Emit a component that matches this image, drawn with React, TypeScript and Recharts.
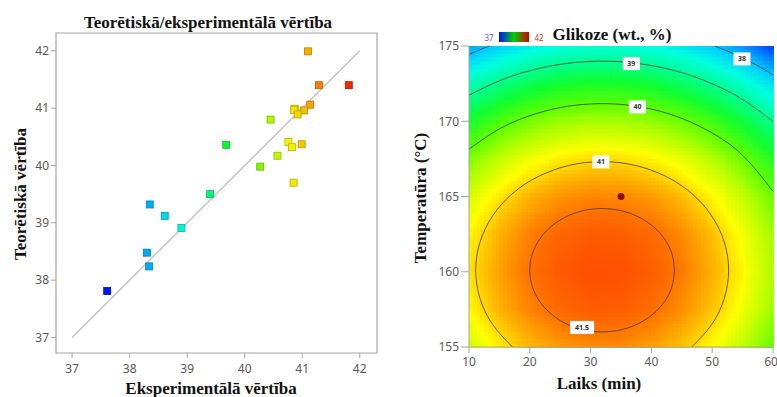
import { ScatterChart, ComposedChart, Scatter, Line, XAxis, YAxis, ReferenceArea, ReferenceLine } from 'recharts'

// kreisais grafiks: eksperimentālā pret teorētisko vērtību
const eksperimentala = [41.1, 41.29, 41.81, 41.14, 41.03, 40.87, 40.86, 40.92, 40.45, 39.68, 40.76, 40.82, 40.99, 40.57, 40.27, 40.85, 39.4, 38.35, 38.61, 38.9, 38.3, 38.34, 37.61]
const teoretiska = [41.99, 41.4, 41.4, 41.06, 40.96, 40.99, 40.97, 40.89, 40.8, 40.36, 40.41, 40.32, 40.37, 40.17, 39.98, 39.7, 39.5, 39.32, 39.12, 38.91, 38.48, 38.24, 37.81]
const vertibuTicks = [37, 38, 39, 40, 41, 42]

// labais grafiks: glikozes virsma (rindas pēc temperatūras, kolonnas pēc laika)
const laiks = [10, 15, 20, 25, 30, 35, 40, 45, 50, 55, 60]
const temperatura = [155, 157.5, 160, 162.5, 165, 167.5, 170, 172.5, 175]
const glikoze = [
  [40.55, 40.88, 41.13, 41.29, 41.37, 41.36, 41.26, 41.08, 40.81, 40.46, 40.02],
  [40.82, 41.16, 41.4, 41.56, 41.64, 41.63, 41.53, 41.35, 41.08, 40.73, 40.29],
  [40.92, 41.25, 41.5, 41.66, 41.73, 41.72, 41.63, 41.45, 41.18, 40.83, 40.39],
  [40.84, 41.17, 41.42, 41.58, 41.65, 41.64, 41.55, 41.37, 41.1, 40.75, 40.31],
  [40.58, 40.91, 41.16, 41.32, 41.39, 41.38, 41.29, 41.11, 40.84, 40.49, 40.05],
  [40.14, 40.47, 40.72, 40.88, 40.96, 40.95, 40.85, 40.67, 40.4, 40.05, 39.61],
  [39.53, 39.86, 40.11, 40.27, 40.34, 40.33, 40.24, 40.06, 39.79, 39.44, 39.0],
  [38.74, 39.07, 39.32, 39.48, 39.55, 39.54, 39.45, 39.26, 39.0, 38.65, 38.21],
  [37.77, 38.1, 38.35, 38.51, 38.58, 38.57, 38.48, 38.29, 38.03, 37.68, 37.24],
]
const laiksTicks = [10, 20, 30, 40, 50, 60]
const tempTicks = [155, 160, 165, 170, 175]

// izolīnijas [laiks, temperatūra]
const izo38a = [[10, 174.44], [12, 174.79], [13.37, 175]]
const izo38b = [[50.43, 175], [52, 174.75], [55, 174.21], [58, 173.57], [60, 173.07]]
const izo39 = [[10, 171.73], [15, 172.69], [20, 173.36], [25, 173.78], [30, 173.98], [35, 173.95], [40, 173.7], [45, 173.23], [50, 172.49], [55, 171.45], [60, 169.99]]
const izo40 = [[10, 168.15], [15, 169.49], [20, 170.37], [25, 170.91], [30, 171.15], [35, 171.12], [40, 170.81], [45, 170.19], [50, 169.22], [55, 167.74], [60, 165.34]]
const izo41 = [[46.63, 155], [49.91, 156.49], [51.99, 158.23], [52.7, 160.1], [51.99, 161.97], [49.91, 163.71], [46.61, 165.21], [42.3, 166.35], [37.29, 167.07], [31.9, 167.32], [26.51, 167.07], [21.5, 166.35], [17.19, 165.21], [13.89, 163.71], [11.81, 161.97], [11.1, 160.1], [11.81, 158.23], [13.89, 156.49], [17.17, 155]]
const izo415 = [[43.8, 160.1], [43.4, 161.16], [42.21, 162.15], [40.31, 163], [37.85, 163.65], [34.98, 164.06], [31.9, 164.2], [28.82, 164.06], [25.95, 163.65], [23.49, 163], [21.59, 162.15], [20.4, 161.16], [20, 160.1], [20.4, 159.04], [21.59, 158.05], [23.49, 157.2], [25.95, 156.55], [28.82, 156.14], [31.9, 156], [34.98, 156.14], [37.85, 156.55], [40.31, 157.2], [42.21, 158.05], [43.4, 159.04], [43.8, 160.1]]
const izoTeksti = ['38', '39', '40', '41', '41.5']
const izoTekstuLaiks = [54.9, 36.7, 37.7, 31.7, 28.6]
const izoTekstuTemp = [174.14, 173.83, 170.95, 167.3, 156.3]
const eksperimentsLaiks = [35]
const eksperimentsTemp = [165]

const izolinijas = [izo38a, izo38b, izo39, izo40, izo41, izo415]

const HEAT: [number, number[]][] = [
  [0, [0, 16, 255]],
  [0.1, [0, 112, 255]],
  [0.2, [0, 200, 255]],
  [0.3, [0, 255, 224]],
  [0.4, [0, 255, 144]],
  [0.5, [16, 255, 48]],
  [0.6, [96, 255, 0]],
  [0.68, [180, 255, 0]],
  [0.76, [255, 255, 0]],
  [0.82, [255, 190, 0]],
  [0.9, [255, 112, 0]],
  [1, [255, 40, 0]],
]

function heat(t: number, k = 1) {
  const c = Math.max(0, Math.min(1, t))
  let i = 0
  while (i < HEAT.length - 2 && c > HEAT[i + 1][0]) i++
  const [t0, a] = HEAT[i]
  const [t1, b] = HEAT[i + 1]
  const f = (c - t0) / (t1 - t0)
  const ch = (n: number) => Math.round((a[n] + (b[n] - a[n]) * f) * k)
  return `rgb(${ch(0)},${ch(1)},${ch(2)})`
}

const paritate = eksperimentala.map((exp, i) => ({ exp, teo: teoretiska[i] }))
const tagi = izoTeksti.map((text, i) => ({ u: izoTekstuLaiks[i], v: izoTekstuTemp[i], text }))
const eksperiments = eksperimentsLaiks.map((u, i) => ({ u, v: eksperimentsTemp[i] }))

const tick = { fontSize: 12, fill: '#595959', fontFamily: 'Noto Sans' }
const serif = { fontFamily: 'Liberation Serif', fontWeight: 700, fontSize: 17, color: '#111', whiteSpace: 'nowrap' as const }

function Square(props: any) {
  const { cx, cy, payload } = props
  const t = (payload.exp - 37.6) / 4.2
  return <rect x={cx - 3.5} y={cy - 3.5} width={7} height={7} fill={heat(t, 0.97)} stroke={heat(t, 0.72)} strokeWidth={0.8} />
}

function HeatCell(props: any) {
  const { x, y, width, height, zbl, zbr, ztl, ztr } = props
  const nx = 8
  const ny = 10
  const w = width / nx
  const h = height / ny
  const out = []
  for (let a = 0; a < nx; a++) {
    for (let b = 0; b < ny; b++) {
      const s = (a + 0.5) / nx
      const r = (b + 0.5) / ny
      const top = ztl * (1 - s) + ztr * s
      const bot = zbl * (1 - s) + zbr * s
      const z = top * (1 - r) + bot * r
      out.push(<rect key={a + '-' + b} x={x + a * w} y={y + b * h} width={w + 0.6} height={h + 0.6} fill={heat((z - 37) / 5)} />)
    }
  }
  return <g shapeRendering="crispEdges">{out}</g>
}

function Tag(props: any) {
  const { cx, cy, payload } = props
  const w = payload.text.length > 2 ? 24 : 17
  return (
    <g>
      <rect x={cx - w / 2} y={cy - 6.5} width={w} height={13} fill="#fff" />
      <text x={cx} y={cy + 2.5} textAnchor="middle" fontSize={7} fontWeight={700} fill="#333" fontFamily="Noto Sans">{payload.text}</text>
    </g>
  )
}

function Dot(props: any) {
  return <circle cx={props.cx} cy={props.cy} r={3.5} fill="#8b0a0a" />
}

const cells: any[] = []
for (let j = 0; j < temperatura.length - 1; j++) {
  for (let i = 0; i < laiks.length - 1; i++) {
    cells.push({
      x1: laiks[i], x2: laiks[i + 1], y1: temperatura[j], y2: temperatura[j + 1],
      zbl: glikoze[j][i], zbr: glikoze[j][i + 1], ztl: glikoze[j + 1][i], ztr: glikoze[j + 1][i + 1],
    })
  }
}

function Abs({ x, y, rotate, style, children }: any) {
  return (
    <div style={{ position: 'absolute', left: x, top: y, transform: `translate(-50%,-50%)${rotate ? ' rotate(-90deg)' : ''}`, ...style }}>
      {children}
    </div>
  )
}

export default function App() {
  return (
    <div style={{ position: 'absolute', left: 0, top: 0, width: 777, height: 397, background: '#fff', overflow: 'hidden' }}>
      <div style={{ position: 'absolute', left: 0, top: 0 }}>
        <ScatterChart width={390} height={397} margin={{ top: 33, right: 13, bottom: 14, left: 16 }}>
          <XAxis type="number" dataKey="exp" domain={[36.72, 42.3]} ticks={vertibuTicks} tick={tick} tickSize={5} tickMargin={6} height={30} axisLine={false} stroke="#a6a6a6" />
          <YAxis type="number" dataKey="teo" domain={[36.73, 42.31]} ticks={vertibuTicks} tick={tick} tickSize={5} tickMargin={2} width={40} axisLine={false} stroke="#a6a6a6" />
          <ReferenceArea x1={36.72} x2={42.3} y1={36.73} y2={42.31} fill="none" stroke="#a6a6a6" strokeWidth={1.2} />
          <ReferenceLine segment={[{ x: 37, y: 37 }, { x: 42, y: 42 }]} stroke="#c4c4c4" strokeWidth={1.5} />
          <Scatter data={paritate} shape={Square} isAnimationActive={false} />
        </ScatterChart>
      </div>
      <div style={{ position: 'absolute', left: 400, top: 0 }}>
        <ComposedChart width={377} height={397} margin={{ top: 46, right: 4, bottom: 25, left: 24 }}>
          <XAxis type="number" dataKey="u" domain={[10, 60]} ticks={laiksTicks} tick={tick} tickSize={6} tickMargin={4} height={25} stroke="#a6a6a6" />
          <YAxis type="number" dataKey="v" domain={[155, 175]} ticks={tempTicks} tick={tick} tickSize={8} tickMargin={2} width={45} stroke="#a6a6a6" />
          {cells.map((c, k) => (
            <ReferenceArea key={k} x1={c.x1} x2={c.x2} y1={c.y1} y2={c.y2} shape={(p: any) => <HeatCell {...p} {...c} />} />
          ))}
          {izolinijas.map((l, k) => (
            <Line key={k} data={l.map(([u, v]) => ({ u, v }))} dataKey="v" type="natural" dot={false} stroke="#3a3320" strokeOpacity={0.75} strokeWidth={1} isAnimationActive={false} />
          ))}
          <Scatter data={tagi} shape={Tag} isAnimationActive={false} />
          <Scatter data={eksperiments} shape={Dot} isAnimationActive={false} />
        </ComposedChart>
      </div>

      <Abs x={208} y={23} style={serif}>Teorētiskā/eksperimentālā vērtība</Abs>
      <Abs x={211} y={389} style={serif}>Eksperimentālā vērtība</Abs>
      <Abs x={21} y={194} rotate style={serif}>Teorētiskā vērtība</Abs>

      <Abs x={612} y={35} style={serif}>Glikoze (wt., %)</Abs>
      <Abs x={599} y={384} style={serif}>Laiks (min)</Abs>
      <Abs x={421} y={198} rotate style={serif}>Temperatūra (°C)</Abs>

      <div style={{ position: 'absolute', left: 499, top: 32, width: 30, height: 10, background: 'linear-gradient(to right, #0010ff, #00d000, #d00000)' }} />
      <Abs x={489} y={37} style={{ fontFamily: 'Noto Sans', fontSize: 8, color: '#6a5acd' }}>37</Abs>
      <Abs x={539} y={37} style={{ fontFamily: 'Noto Sans', fontSize: 8, color: '#e03030' }}>42</Abs>
    </div>
  )
}
